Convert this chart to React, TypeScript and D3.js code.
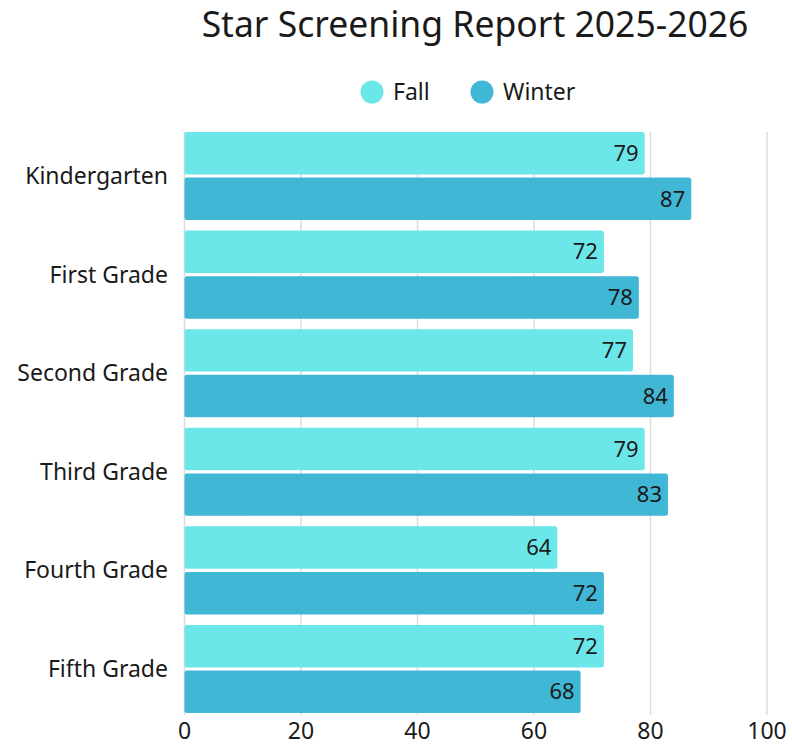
import React, { useEffect, useRef } from "react";
import * as d3 from "d3";

const grades = [
  "Kindergarten",
  "First Grade",
  "Second Grade",
  "Third Grade",
  "Fourth Grade",
  "Fifth Grade",
];
const seasons = ["Fall", "Winter"];
const fallScores = [79, 72, 77, 79, 64, 72];
const winterScores = [87, 78, 84, 83, 72, 68];
const xTicks = [0, 20, 40, 60, 80, 100];
const seasonColors = ["#6be6e9", "#41b7d6"];

const App = () => {
  const chartRef = useRef<HTMLDivElement>(null);

  useEffect(() => {
    const width = 792;
    const height = 745;
    const margin = { left: 184.5, top: 132, right: 25, bottom: 32 };
    const font = "'Noto Sans', sans-serif";

    const root = d3.select(chartRef.current);
    root.selectAll("*").remove();

    // body keeps its 8px margin, so pin the svg to the page corner
    const svg = root
      .append("svg")
      .attr("width", width)
      .attr("height", height)
      .style("position", "absolute")
      .style("left", "0px")
      .style("top", "0px")
      .style("font-family", font);

    const x = d3
      .scaleLinear()
      .domain([0, 100])
      .range([margin.left, 767]);

    const y = d3
      .scaleBand()
      .domain(grades)
      .range([margin.top, 713])
      .paddingInner(0.107)
      .paddingOuter(0);

    const ySub = d3
      .scaleBand()
      .domain(seasons)
      .range([0, y.bandwidth()])
      .paddingInner(0.07);

    // gridlines
    svg
      .append("g")
      .selectAll("line")
      .data(xTicks)
      .enter()
      .append("line")
      .attr("x1", (d) => x(d))
      .attr("x2", (d) => x(d))
      .attr("y1", margin.top)
      .attr("y2", 715)
      .style("stroke", "#dcdcdc")
      .style("stroke-width", 1.5);

    // title
    svg
      .append("text")
      .attr("x", 475)
      .attr("y", 37)
      .attr("text-anchor", "middle")
      .style("font-size", "35.5px")
      .style("fill", "#1a1a1a")
      .text("Star Screening Report 2025-2026");

    // legend
    const legendX = [372, 482];
    const legend = svg
      .append("g")
      .selectAll("g")
      .data(seasons)
      .enter()
      .append("g")
      .attr("transform", (d, i) => `translate(${legendX[i]},92)`);
    legend
      .append("circle")
      .attr("r", 11.5)
      .style("fill", (d, i) => seasonColors[i]);
    legend
      .append("text")
      .attr("x", 21)
      .attr("dy", "0.35em")
      .style("font-size", "23px")
      .style("fill", "#1a1a1a")
      .text((d) => d);

    const rows = grades.map((g, i) => ({
      grade: g,
      values: [fallScores[i], winterScores[i]],
    }));

    const group = svg
      .append("g")
      .selectAll("g")
      .data(rows)
      .enter()
      .append("g")
      .attr("transform", (d) => `translate(0,${y(d.grade)})`);

    group
      .selectAll("rect")
      .data((d) => d.values)
      .enter()
      .append("rect")
      .attr("x", x(0))
      .attr("y", (d, i) => ySub(seasons[i]) as number)
      .attr("width", (d) => x(d) - x(0))
      .attr("height", ySub.bandwidth())
      .attr("rx", 2.5)
      .style("fill", (d, i) => seasonColors[i]);

    group
      .selectAll("text.value")
      .data((d) => d.values)
      .enter()
      .append("text")
      .attr("class", "value")
      .attr("x", (d) => x(d) - 6)
      .attr("y", (d, i) => (ySub(seasons[i]) as number) + ySub.bandwidth() / 2)
      .attr("dy", "0.35em")
      .attr("text-anchor", "end")
      .style("font-size", "22px")
      .style("fill", "#1a1a1a")
      .text((d) => d);

    // category labels
    svg
      .append("g")
      .selectAll("text")
      .data(grades)
      .enter()
      .append("text")
      .attr("x", 168)
      .attr("y", (d) => (y(d) as number) + y.bandwidth() / 2)
      .attr("dy", "0.35em")
      .attr("text-anchor", "end")
      .style("font-size", "23px")
      .style("fill", "#1a1a1a")
      .text((d) => d);

    // x tick labels
    svg
      .append("g")
      .selectAll("text")
      .data(xTicks)
      .enter()
      .append("text")
      .attr("x", (d) => x(d))
      .attr("y", 731)
      .attr("dy", "0.35em")
      .attr("text-anchor", "middle")
      .style("font-size", "23px")
      .style("fill", "#1a1a1a")
      .text((d) => d);
  }, []);

  return <div id="chart" ref={chartRef}></div>;
};

export default App;
